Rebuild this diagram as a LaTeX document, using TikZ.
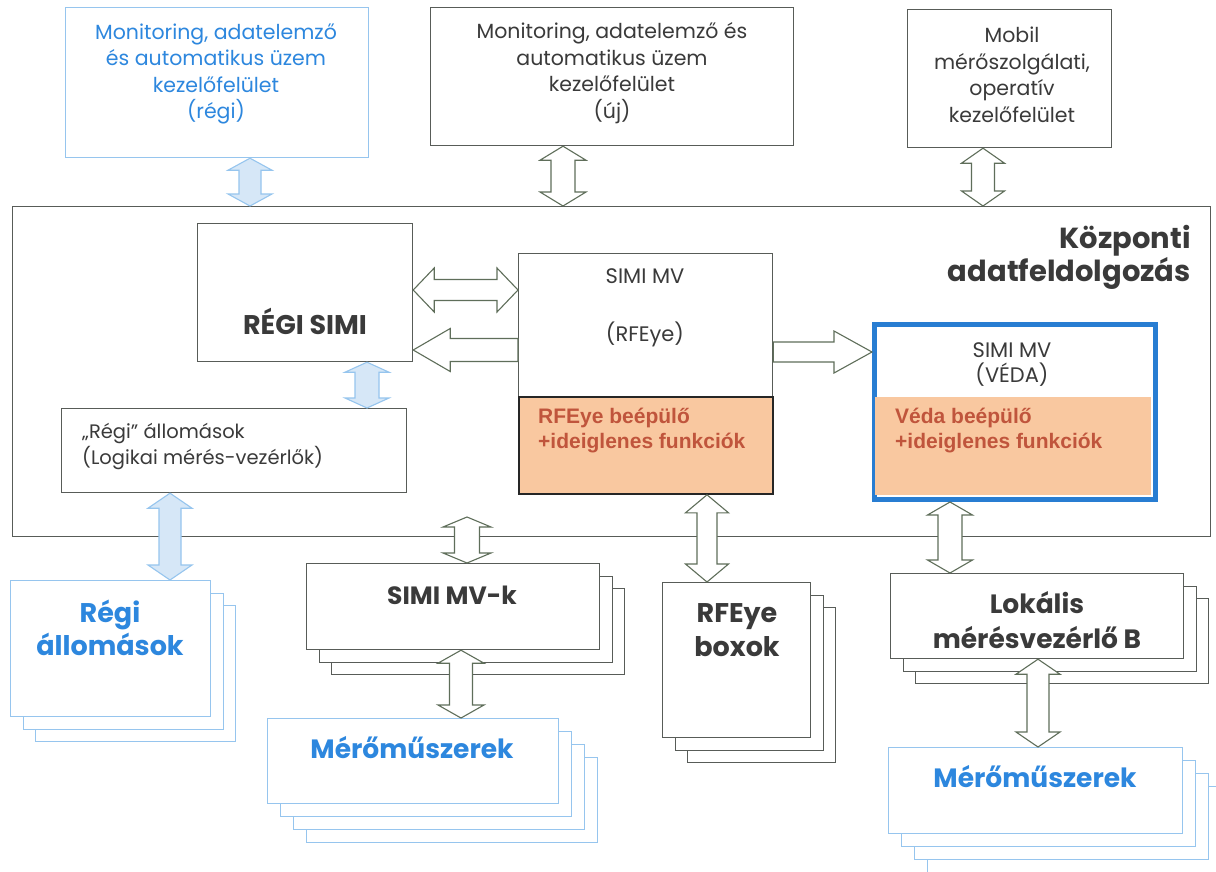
\documentclass[tikz,border=0pt]{standalone}
\usepackage{fontspec}
\setmainfont{Poppins}
\newfontfamily\arialfont{Liberation Sans}
\usetikzlibrary{calc, shadows}

\definecolor{lnGray}{RGB}{88,92,88}
\definecolor{txGray}{RGB}{58,58,58}
\definecolor{arrLine}{RGB}{95,110,90}
\definecolor{skyLine}{RGB}{150,197,238}
\definecolor{skyFill}{RGB}{214,231,247}
\definecolor{skyText}{RGB}{45,135,222}
\definecolor{peach}{RGB}{249,200,160}
\definecolor{rust}{RGB}{192,85,60}
\definecolor{vedaBlue}{RGB}{40,125,210}

\tikzset{
  dblarr/.style n args={3}{to path={
    let \p1=(\tikztostart), \p2=(\tikztotarget),
        \n1={atan2((\y2)-(\y1),(\x2)-(\x1))}, \n2={veclen((\x2)-(\x1),(\y2)-(\y1))} in
    {[shift={(\p1)}, rotate=\n1]
      (0,0) -- (#3,#2) -- (#3,#1) -- (\n2-#3,#1) -- (\n2-#3,#2) -- (\n2,0)
      -- (\n2-#3,-#2) -- (\n2-#3,-#1) -- (#3,-#1) -- (#3,-#2) -- cycle}
  }},
  sglarr/.style n args={3}{to path={
    let \p1=(\tikztostart), \p2=(\tikztotarget),
        \n1={atan2((\y2)-(\y1),(\x2)-(\x1))}, \n2={veclen((\x2)-(\x1),(\y2)-(\y1))} in
    {[shift={(\p1)}, rotate=\n1]
      (0,#1) -- (\n2-#3,#1) -- (\n2-#3,#2) -- (\n2,0)
      -- (\n2-#3,-#2) -- (\n2-#3,-#1) -- (0,-#1) -- cycle}
  }},
  stack3/.style={
    copy shadow={shadow xshift=25pt, shadow yshift=-25pt, draw=#1, fill=white},
    copy shadow={shadow xshift=12.5pt, shadow yshift=-12.5pt, draw=#1, fill=white}},
  stack4/.style={
    copy shadow={shadow xshift=39pt, shadow yshift=-39pt, draw=#1, fill=white},
    copy shadow={shadow xshift=26pt, shadow yshift=-26pt, draw=#1, fill=white},
    copy shadow={shadow xshift=13pt, shadow yshift=-13pt, draw=#1, fill=white}},
}

\begin{document}
\begin{tikzpicture}[x=1pt, y=-1pt]
    \tikzstyle{box} = [rectangle, draw=lnGray, line width=1.2pt, fill=white, inner sep=0pt, anchor=north west]
    \tikzstyle{skybox} = [box, draw=skyLine]
    \tikzstyle{txt} = [align=center, text=txGray, inner sep=0pt]
    \tikzstyle{skytxt} = [txt, text=skyText]
    \tikzstyle{fntxt} = [align=left, text=rust, inner sep=0pt, anchor=west, font=\arialfont\bfseries\fontsize{21}{25}\selectfont]
    \tikzstyle{outl} = [draw=arrLine, line width=1.1pt, fill=white]
    \tikzstyle{skyarr} = [draw=skyLine, line width=1.1pt, fill=skyFill]

    \fill[white] (0,0) rectangle (1216,871);
    \useasboundingbox (0,0) rectangle (1216,871);

    % Top row
    \node[skybox, minimum width=303pt, minimum height=150pt] (uiregi) at (65,7) {};
    \node[box, minimum width=363pt, minimum height=138pt] (uiuj) at (430,7) {};
    \node[box, minimum width=204pt, minimum height=138pt] (uimobil) at (907,9) {};
    \node[skytxt, font=\fontsize{20.5}{26.5}\selectfont] (uiregilbl) at (216,74) {Monitoring, adatelemző\\és automatikus üzem\\kezelőfelület\\(régi)};
    \node[txt, font=\fontsize{20.5}{26.5}\selectfont] (uiujlbl) at (612,73) {Monitoring, adatelemző és\\automatikus üzem\\kezelőfelület\\(új)};
    \node[txt, font=\fontsize{20.5}{26.5}\selectfont] (uimobillbl) at (1012,75) {Mobil\\mérőszolgálati,\\operatív\\kezelőfelület};

    % Central processing
    \node[box, minimum width=1198pt, minimum height=330pt] (kozp) at (12,206) {};
    \node[txt, align=right, anchor=east, font=\bfseries\fontsize{29}{33}\selectfont] (kozplbl) at (1191,257) {Központi\\adatfeldolgozás};
    \node[box, minimum width=215pt, minimum height=138pt] (regisimi) at (197,223) {};
    \node[txt, font=\bfseries\fontsize{27}{30}\selectfont] (regisimilbl) at (305,321) {RÉGI SIMI};
    \node[box, minimum width=254pt, minimum height=240pt] (rfeye) at (518,253) {};
    \node[txt, font=\fontsize{21}{58}\selectfont] (rfeyelbl) at (645,308) {SIMI MV\\(RFEye)};
    \node[box, draw=black!85, line width=1.8pt, fill=peach, minimum width=254pt, minimum height=97pt] (rfeyefn) at (518,396) {};
    \node[fntxt] (rfeyefnlbl) at (538,431) {RFEye beépülő\\+ideiglenes funkciók};
    \node[box, draw=vedaBlue, line width=5pt, minimum width=281pt, minimum height=175pt] (veda) at (872,322) {};
    \node[rectangle, fill=peach, inner sep=0pt, anchor=north west, minimum width=276pt, minimum height=97.5pt] (vedafn) at (874.5,397) {};
    \node[txt, font=\fontsize{21}{25}\selectfont] (vedalbl) at (1012,365) {SIMI MV\\(VÉDA)};
    \node[fntxt] (vedafnlbl) at (895,431) {Véda beépülő\\+ideiglenes funkciók};
    \node[box, minimum width=345pt, minimum height=84pt] (regiall) at (61,408) {};
    \node[txt, align=left, anchor=west, font=\fontsize{19.5}{26}\selectfont] (regialllbl) at (82,446) {„Régi” állomások\\(Logikai mérés-vezérlők)};

    % Bottom stacks
    \node[skybox, stack3=skyLine, minimum width=200pt, minimum height=136pt] (regist) at (10,580) {};
    \node[skytxt, font=\bfseries\fontsize{27}{33}\selectfont] (registlbl) at (110,628) {Régi\\állomások};
    \node[box, stack3=lnGray, minimum width=293pt, minimum height=86pt] (simik) at (306,563) {};
    \node[txt, font=\bfseries\fontsize{25}{30}\selectfont] (simiklbl) at (452,595) {SIMI MV-k};
    \node[skybox, stack4=skyLine, minimum width=291pt, minimum height=85pt] (meroL) at (267,718) {};
    \node[skytxt, font=\bfseries\fontsize{26.5}{30}\selectfont] (meroLlbl) at (412,748) {Mérőműszerek};
    \node[box, stack3=lnGray, minimum width=148pt, minimum height=155pt] (rfeyebox) at (662,582) {};
    \node[txt, font=\bfseries\fontsize{27}{34}\selectfont] (rfeyeboxlbl) at (737,630) {RFEye\\boxok};
    \node[box, stack3=lnGray, minimum width=293pt, minimum height=85pt] (lokalis) at (890,573) {};
    \node[txt, font=\bfseries\fontsize{26.5}{35}\selectfont] (lokalislbl) at (1037,620) {Lokális\\mérésvezérlő B};
    \node[skybox, stack4=skyLine, minimum width=294pt, minimum height=86pt] (meroR) at (888,747) {};
    \node[skytxt, font=\bfseries\fontsize{26.5}{30}\selectfont] (meroRlbl) at (1035,777) {Mérőműszerek};

    % Arrow positions
    \coordinate (xa) at (250,0);
    \coordinate (xb) at (563,0);
    \coordinate (xc) at (983,0);
    \coordinate (xd) at (367,0);
    \coordinate (xe) at (170,0);
    \coordinate (xg) at (461,0);
    \coordinate (xh) at (707,0);
    \coordinate (xi) at (950,0);
    \coordinate (xj) at (1038,0);
    \coordinate (ya) at (0,290);
    \coordinate (yb) at (0,350);
    \coordinate (yc) at (0,352);
    \coordinate (f0) at (467,517);

    % Paths
    \draw[skyarr, dblarr={11}{22}{12}] (uiregi.south -| xa) to (kozp.north -| xa);
    \draw[outl, dblarr={12}{23}{14}] (uiuj.south -| xb) to (kozp.north -| xb);
    \draw[outl, dblarr={11.5}{21.5}{15}] (uimobil.south -| xc) to (kozp.north -| xc);
    \draw[outl, dblarr={10.5}{22}{21}] (regisimi.east |- ya) to (rfeye.west |- ya);
    \draw[outl, sglarr={11.5}{21.5}{37}] (rfeye.west |- yb) to (regisimi.east |- yb);
    \draw[outl, sglarr={10}{21}{38}] (rfeye.east |- yc) to (veda.west |- yc);
    \draw[skyarr, dblarr={12}{22}{10}] (regisimi.south -| xd) to (regiall.north -| xd);
    \draw[skyarr, dblarr={11}{22}{15}] (regiall.south -| xe) to (regist.north -| xe);
    \draw[outl, dblarr={12.5}{24}{10}] (f0) to (simik.north -| f0);
    \draw[outl, dblarr={11.5}{23}{13}] (simik.south -| xg) to (meroL.north -| xg);
    \draw[outl, dblarr={10}{21.5}{18}] (rfeyefn.south -| xh) to (rfeyebox.north -| xh);
    \draw[outl, dblarr={12}{22.5}{13}] (veda.south -| xi) to (lokalis.north -| xi);
    \draw[outl, dblarr={11}{22}{15}] (lokalis.south -| xj) to (meroR.north -| xj);
\end{tikzpicture}
\end{document}
